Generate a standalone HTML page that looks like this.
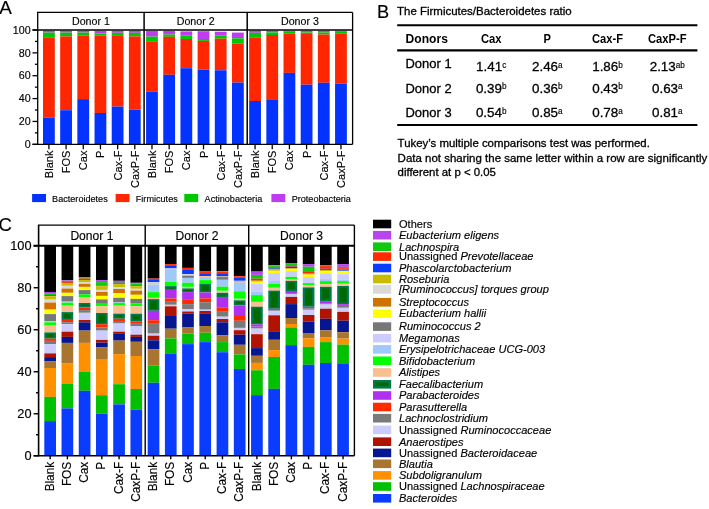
<!DOCTYPE html>
<html><head><meta charset="utf-8"><style>
html,body{margin:0;padding:0;background:#fff;overflow:hidden;}
svg{display:block;font-family:"Liberation Sans", sans-serif;will-change:transform;}
text{stroke:#000;stroke-width:0.15px;}
.pb{stroke-width:0.3px;}
.bd{stroke:none;}
.sp{stroke-width:0.15px;}
</style></head><body>
<svg width="709" height="509" viewBox="0 0 709 509">
<rect width="709" height="509" fill="#fff"/>
<rect x="43.00" y="30.70" width="11.80" height="1.90" fill="#c03cf0"/>
<rect x="43.00" y="32.60" width="11.80" height="4.70" fill="#00c800"/>
<rect x="43.00" y="37.30" width="11.80" height="80.20" fill="#ff2600"/>
<rect x="43.00" y="117.50" width="11.80" height="26.80" fill="#0433ff"/>
<rect x="60.18" y="30.70" width="11.80" height="1.90" fill="#c03cf0"/>
<rect x="60.18" y="32.60" width="11.80" height="3.80" fill="#00c800"/>
<rect x="60.18" y="36.40" width="11.80" height="73.80" fill="#ff2600"/>
<rect x="60.18" y="110.20" width="11.80" height="34.10" fill="#0433ff"/>
<rect x="77.36" y="30.70" width="11.80" height="1.90" fill="#c03cf0"/>
<rect x="77.36" y="32.60" width="11.80" height="3.10" fill="#00c800"/>
<rect x="77.36" y="35.70" width="11.80" height="63.40" fill="#ff2600"/>
<rect x="77.36" y="99.10" width="11.80" height="45.20" fill="#0433ff"/>
<rect x="94.54" y="30.70" width="11.80" height="2.70" fill="#c03cf0"/>
<rect x="94.54" y="33.40" width="11.80" height="2.30" fill="#00c800"/>
<rect x="94.54" y="35.70" width="11.80" height="77.30" fill="#ff2600"/>
<rect x="94.54" y="113.00" width="11.80" height="31.30" fill="#0433ff"/>
<rect x="111.72" y="30.70" width="11.80" height="2.10" fill="#c03cf0"/>
<rect x="111.72" y="32.80" width="11.80" height="3.10" fill="#00c800"/>
<rect x="111.72" y="35.90" width="11.80" height="70.70" fill="#ff2600"/>
<rect x="111.72" y="106.60" width="11.80" height="37.70" fill="#0433ff"/>
<rect x="128.90" y="30.70" width="11.80" height="2.10" fill="#c03cf0"/>
<rect x="128.90" y="32.80" width="11.80" height="3.60" fill="#00c800"/>
<rect x="128.90" y="36.40" width="11.80" height="73.30" fill="#ff2600"/>
<rect x="128.90" y="109.70" width="11.80" height="34.60" fill="#0433ff"/>
<rect x="146.08" y="30.70" width="11.80" height="5.90" fill="#c03cf0"/>
<rect x="146.08" y="36.60" width="11.80" height="4.70" fill="#00c800"/>
<rect x="146.08" y="41.30" width="11.80" height="50.50" fill="#ff2600"/>
<rect x="146.08" y="91.80" width="11.80" height="52.50" fill="#0433ff"/>
<rect x="163.26" y="30.70" width="11.80" height="3.80" fill="#c03cf0"/>
<rect x="163.26" y="34.50" width="11.80" height="2.30" fill="#00c800"/>
<rect x="163.26" y="36.80" width="11.80" height="38.00" fill="#ff2600"/>
<rect x="163.26" y="74.80" width="11.80" height="69.50" fill="#0433ff"/>
<rect x="180.44" y="31.40" width="11.80" height="4.30" fill="#c03cf0"/>
<rect x="180.44" y="35.70" width="11.80" height="3.30" fill="#00c800"/>
<rect x="180.44" y="39.00" width="11.80" height="29.20" fill="#ff2600"/>
<rect x="180.44" y="68.20" width="11.80" height="76.10" fill="#0433ff"/>
<rect x="197.62" y="31.20" width="11.80" height="7.80" fill="#c03cf0"/>
<rect x="197.62" y="39.00" width="11.80" height="1.90" fill="#00c800"/>
<rect x="197.62" y="40.90" width="11.80" height="28.70" fill="#ff2600"/>
<rect x="197.62" y="69.60" width="11.80" height="74.70" fill="#0433ff"/>
<rect x="214.80" y="31.70" width="11.80" height="4.00" fill="#c03cf0"/>
<rect x="214.80" y="35.70" width="11.80" height="3.00" fill="#00c800"/>
<rect x="214.80" y="38.70" width="11.80" height="31.60" fill="#ff2600"/>
<rect x="214.80" y="70.30" width="11.80" height="74.00" fill="#0433ff"/>
<rect x="231.98" y="32.60" width="11.80" height="5.70" fill="#c03cf0"/>
<rect x="231.98" y="38.30" width="11.80" height="5.40" fill="#00c800"/>
<rect x="231.98" y="43.70" width="11.80" height="38.90" fill="#ff2600"/>
<rect x="231.98" y="82.60" width="11.80" height="61.70" fill="#0433ff"/>
<rect x="249.16" y="30.70" width="11.80" height="2.10" fill="#c03cf0"/>
<rect x="249.16" y="32.80" width="11.80" height="5.00" fill="#00c800"/>
<rect x="249.16" y="37.80" width="11.80" height="63.20" fill="#ff2600"/>
<rect x="249.16" y="101.00" width="11.80" height="43.30" fill="#0433ff"/>
<rect x="266.34" y="30.70" width="11.80" height="1.70" fill="#c03cf0"/>
<rect x="266.34" y="32.40" width="11.80" height="2.60" fill="#00c800"/>
<rect x="266.34" y="35.00" width="11.80" height="64.30" fill="#ff2600"/>
<rect x="266.34" y="99.30" width="11.80" height="45.00" fill="#0433ff"/>
<rect x="283.52" y="30.70" width="11.80" height="1.20" fill="#c03cf0"/>
<rect x="283.52" y="31.90" width="11.80" height="1.90" fill="#00c800"/>
<rect x="283.52" y="33.80" width="11.80" height="39.10" fill="#ff2600"/>
<rect x="283.52" y="72.90" width="11.80" height="71.40" fill="#0433ff"/>
<rect x="300.70" y="30.70" width="11.80" height="1.70" fill="#c03cf0"/>
<rect x="300.70" y="32.40" width="11.80" height="1.60" fill="#00c800"/>
<rect x="300.70" y="34.00" width="11.80" height="50.70" fill="#ff2600"/>
<rect x="300.70" y="84.70" width="11.80" height="59.60" fill="#0433ff"/>
<rect x="317.88" y="30.70" width="11.80" height="1.70" fill="#c03cf0"/>
<rect x="317.88" y="32.40" width="11.80" height="2.10" fill="#00c800"/>
<rect x="317.88" y="34.50" width="11.80" height="48.30" fill="#ff2600"/>
<rect x="317.88" y="82.80" width="11.80" height="61.50" fill="#0433ff"/>
<rect x="335.06" y="30.70" width="11.80" height="1.20" fill="#c03cf0"/>
<rect x="335.06" y="31.90" width="11.80" height="1.90" fill="#00c800"/>
<rect x="335.06" y="33.80" width="11.80" height="49.70" fill="#ff2600"/>
<rect x="335.06" y="83.50" width="11.80" height="60.80" fill="#0433ff"/>
<line x1="37.70" y1="12.40" x2="37.70" y2="144.90" stroke="#000" stroke-width="1.3"/>
<line x1="37.10" y1="12.40" x2="352.60" y2="12.40" stroke="#000" stroke-width="1.3"/>
<line x1="352.60" y1="12.40" x2="352.60" y2="144.30" stroke="#000" stroke-width="1.3"/>
<line x1="32.50" y1="30.00" x2="352.60" y2="30.00" stroke="#000" stroke-width="1.3"/>
<line x1="32.50" y1="144.30" x2="352.60" y2="144.30" stroke="#000" stroke-width="1.3"/>
<line x1="144.10" y1="12.40" x2="144.10" y2="144.30" stroke="#000" stroke-width="1.5"/>
<line x1="247.20" y1="12.40" x2="247.20" y2="144.30" stroke="#000" stroke-width="1.5"/>
<line x1="32.50" y1="144.30" x2="37.70" y2="144.30" stroke="#000" stroke-width="1.3"/>
<text x="30.70" y="148.00" font-size="10.7" text-anchor="end" >0</text>
<line x1="34.90" y1="132.87" x2="37.70" y2="132.87" stroke="#000" stroke-width="1.3"/>
<line x1="32.50" y1="121.44" x2="37.70" y2="121.44" stroke="#000" stroke-width="1.3"/>
<text x="30.70" y="125.14" font-size="10.7" text-anchor="end" >20</text>
<line x1="34.90" y1="110.01" x2="37.70" y2="110.01" stroke="#000" stroke-width="1.3"/>
<line x1="32.50" y1="98.58" x2="37.70" y2="98.58" stroke="#000" stroke-width="1.3"/>
<text x="30.70" y="102.28" font-size="10.7" text-anchor="end" >40</text>
<line x1="34.90" y1="87.15" x2="37.70" y2="87.15" stroke="#000" stroke-width="1.3"/>
<line x1="32.50" y1="75.72" x2="37.70" y2="75.72" stroke="#000" stroke-width="1.3"/>
<text x="30.70" y="79.42" font-size="10.7" text-anchor="end" >60</text>
<line x1="34.90" y1="64.29" x2="37.70" y2="64.29" stroke="#000" stroke-width="1.3"/>
<line x1="32.50" y1="52.86" x2="37.70" y2="52.86" stroke="#000" stroke-width="1.3"/>
<text x="30.70" y="56.56" font-size="10.7" text-anchor="end" >80</text>
<line x1="34.90" y1="41.43" x2="37.70" y2="41.43" stroke="#000" stroke-width="1.3"/>
<line x1="32.50" y1="30.00" x2="37.70" y2="30.00" stroke="#000" stroke-width="1.3"/>
<text x="30.70" y="33.70" font-size="10.7" text-anchor="end" >100</text>
<line x1="48.90" y1="144.30" x2="48.90" y2="149.30" stroke="#000" stroke-width="1.3"/>
<text x="0.00" y="0.00" font-size="11.0" text-anchor="end" transform="translate(52.90,150.60) rotate(-90)">Blank</text>
<line x1="66.08" y1="144.30" x2="66.08" y2="149.30" stroke="#000" stroke-width="1.3"/>
<text x="0.00" y="0.00" font-size="11.0" text-anchor="end" transform="translate(70.08,150.60) rotate(-90)">FOS</text>
<line x1="83.26" y1="144.30" x2="83.26" y2="149.30" stroke="#000" stroke-width="1.3"/>
<text x="0.00" y="0.00" font-size="11.0" text-anchor="end" transform="translate(87.26,150.60) rotate(-90)">Cax</text>
<line x1="100.44" y1="144.30" x2="100.44" y2="149.30" stroke="#000" stroke-width="1.3"/>
<text x="0.00" y="0.00" font-size="11.0" text-anchor="end" transform="translate(104.44,150.60) rotate(-90)">P</text>
<line x1="117.62" y1="144.30" x2="117.62" y2="149.30" stroke="#000" stroke-width="1.3"/>
<text x="0.00" y="0.00" font-size="11.0" text-anchor="end" transform="translate(121.62,150.60) rotate(-90)">Cax-F</text>
<line x1="134.80" y1="144.30" x2="134.80" y2="149.30" stroke="#000" stroke-width="1.3"/>
<text x="0.00" y="0.00" font-size="11.0" text-anchor="end" transform="translate(138.80,150.60) rotate(-90)">CaxP-F</text>
<line x1="151.98" y1="144.30" x2="151.98" y2="149.30" stroke="#000" stroke-width="1.3"/>
<text x="0.00" y="0.00" font-size="11.0" text-anchor="end" transform="translate(155.98,150.60) rotate(-90)">Blank</text>
<line x1="169.16" y1="144.30" x2="169.16" y2="149.30" stroke="#000" stroke-width="1.3"/>
<text x="0.00" y="0.00" font-size="11.0" text-anchor="end" transform="translate(173.16,150.60) rotate(-90)">FOS</text>
<line x1="186.34" y1="144.30" x2="186.34" y2="149.30" stroke="#000" stroke-width="1.3"/>
<text x="0.00" y="0.00" font-size="11.0" text-anchor="end" transform="translate(190.34,150.60) rotate(-90)">Cax</text>
<line x1="203.52" y1="144.30" x2="203.52" y2="149.30" stroke="#000" stroke-width="1.3"/>
<text x="0.00" y="0.00" font-size="11.0" text-anchor="end" transform="translate(207.52,150.60) rotate(-90)">P</text>
<line x1="220.70" y1="144.30" x2="220.70" y2="149.30" stroke="#000" stroke-width="1.3"/>
<text x="0.00" y="0.00" font-size="11.0" text-anchor="end" transform="translate(224.70,150.60) rotate(-90)">Cax-F</text>
<line x1="237.88" y1="144.30" x2="237.88" y2="149.30" stroke="#000" stroke-width="1.3"/>
<text x="0.00" y="0.00" font-size="11.0" text-anchor="end" transform="translate(241.88,150.60) rotate(-90)">CaxP-F</text>
<line x1="255.06" y1="144.30" x2="255.06" y2="149.30" stroke="#000" stroke-width="1.3"/>
<text x="0.00" y="0.00" font-size="11.0" text-anchor="end" transform="translate(259.06,150.60) rotate(-90)">Blank</text>
<line x1="272.24" y1="144.30" x2="272.24" y2="149.30" stroke="#000" stroke-width="1.3"/>
<text x="0.00" y="0.00" font-size="11.0" text-anchor="end" transform="translate(276.24,150.60) rotate(-90)">FOS</text>
<line x1="289.42" y1="144.30" x2="289.42" y2="149.30" stroke="#000" stroke-width="1.3"/>
<text x="0.00" y="0.00" font-size="11.0" text-anchor="end" transform="translate(293.42,150.60) rotate(-90)">Cax</text>
<line x1="306.60" y1="144.30" x2="306.60" y2="149.30" stroke="#000" stroke-width="1.3"/>
<text x="0.00" y="0.00" font-size="11.0" text-anchor="end" transform="translate(310.60,150.60) rotate(-90)">P</text>
<line x1="323.78" y1="144.30" x2="323.78" y2="149.30" stroke="#000" stroke-width="1.3"/>
<text x="0.00" y="0.00" font-size="11.0" text-anchor="end" transform="translate(327.78,150.60) rotate(-90)">Cax-F</text>
<line x1="340.96" y1="144.30" x2="340.96" y2="149.30" stroke="#000" stroke-width="1.3"/>
<text x="0.00" y="0.00" font-size="11.0" text-anchor="end" transform="translate(344.96,150.60) rotate(-90)">CaxP-F</text>
<text x="90.90" y="24.80" font-size="10.65" text-anchor="middle" >Donor 1</text>
<text x="195.65" y="24.80" font-size="10.65" text-anchor="middle" >Donor 2</text>
<text x="299.90" y="24.80" font-size="10.65" text-anchor="middle" >Donor 3</text>
<rect x="32.10" y="194.00" width="13.90" height="8.10" fill="#0433ff"/>
<text x="52.10" y="201.60" font-size="9.1" text-anchor="start" >Bacteroidetes</text>
<rect x="115.60" y="194.00" width="13.90" height="8.10" fill="#ff2600"/>
<text x="135.80" y="201.60" font-size="9.1" text-anchor="start" >Firmicutes</text>
<rect x="184.30" y="194.00" width="13.90" height="8.10" fill="#00c800"/>
<text x="204.60" y="201.60" font-size="9.1" text-anchor="start" >Actinobacteria</text>
<rect x="271.40" y="194.00" width="13.90" height="8.10" fill="#c03cf0"/>
<text x="291.70" y="201.60" font-size="9.1" text-anchor="start" >Proteobacteria</text>
<text x="-0.70" y="14.40" font-size="18.9" text-anchor="start" >A</text>
<text x="377.00" y="17.90" font-size="18.2" text-anchor="start" >B</text>
<text x="397.00" y="14.70" font-size="11.0" text-anchor="start" textLength="174.70" lengthAdjust="spacingAndGlyphs" class="pb">The Firmicutes/Bacteroidetes ratio</text>
<line x1="397.20" y1="25.20" x2="697.40" y2="25.20" stroke="#000" stroke-width="2.1"/>
<line x1="397.20" y1="50.30" x2="697.40" y2="50.30" stroke="#000" stroke-width="2.2"/>
<line x1="397.20" y1="124.90" x2="697.40" y2="124.90" stroke="#000" stroke-width="2.0"/>
<text x="405.60" y="42.70" font-size="12.2" text-anchor="start" textLength="42.30" lengthAdjust="spacingAndGlyphs" font-weight="bold" class="bd">Donors</text>
<text x="491.20" y="42.90" font-size="12.2" text-anchor="middle" textLength="20.60" lengthAdjust="spacingAndGlyphs" font-weight="bold" class="bd">Cax</text>
<text x="547.30" y="42.90" font-size="12.2" text-anchor="middle" textLength="7.40" lengthAdjust="spacingAndGlyphs" font-weight="bold" class="bd">P</text>
<text x="607.50" y="42.90" font-size="12.2" text-anchor="middle" textLength="31.00" lengthAdjust="spacingAndGlyphs" font-weight="bold" class="bd">Cax-F</text>
<text x="667.30" y="42.90" font-size="12.2" text-anchor="middle" textLength="38.60" lengthAdjust="spacingAndGlyphs" font-weight="bold" class="bd">CaxP-F</text>
<text x="405.50" y="67.80" font-size="13.2" text-anchor="start" textLength="46.10" lengthAdjust="spacingAndGlyphs" class="pb">Donor 1</text>
<text x="491.20" y="71.30" font-size="13.4" text-anchor="middle" class="pb">1.41<tspan font-size="8.2" dy="-3.5" class="sp">c</tspan></text>
<text x="547.30" y="71.30" font-size="13.4" text-anchor="middle" class="pb">2.46<tspan font-size="8.2" dy="-3.5" class="sp">a</tspan></text>
<text x="607.50" y="71.30" font-size="13.4" text-anchor="middle" class="pb">1.86<tspan font-size="8.2" dy="-3.5" class="sp">b</tspan></text>
<text x="667.30" y="71.30" font-size="13.4" text-anchor="middle" class="pb">2.13<tspan font-size="8.2" dy="-3.5" class="sp">ab</tspan></text>
<text x="405.50" y="92.60" font-size="13.2" text-anchor="start" textLength="46.10" lengthAdjust="spacingAndGlyphs" class="pb">Donor 2</text>
<text x="491.20" y="92.60" font-size="13.4" text-anchor="middle" class="pb">0.39<tspan font-size="8.2" dy="-3.5" class="sp">b</tspan></text>
<text x="547.30" y="92.60" font-size="13.4" text-anchor="middle" class="pb">0.36<tspan font-size="8.2" dy="-3.5" class="sp">b</tspan></text>
<text x="607.50" y="92.60" font-size="13.4" text-anchor="middle" class="pb">0.43<tspan font-size="8.2" dy="-3.5" class="sp">b</tspan></text>
<text x="667.30" y="92.60" font-size="13.4" text-anchor="middle" class="pb">0.63<tspan font-size="8.2" dy="-3.5" class="sp">a</tspan></text>
<text x="405.50" y="117.40" font-size="13.2" text-anchor="start" textLength="46.10" lengthAdjust="spacingAndGlyphs" class="pb">Donor 3</text>
<text x="491.20" y="117.40" font-size="13.4" text-anchor="middle" class="pb">0.54<tspan font-size="8.2" dy="-3.5" class="sp">b</tspan></text>
<text x="547.30" y="117.40" font-size="13.4" text-anchor="middle" class="pb">0.85<tspan font-size="8.2" dy="-3.5" class="sp">a</tspan></text>
<text x="607.50" y="117.40" font-size="13.4" text-anchor="middle" class="pb">0.78<tspan font-size="8.2" dy="-3.5" class="sp">a</tspan></text>
<text x="667.30" y="117.40" font-size="13.4" text-anchor="middle" class="pb">0.81<tspan font-size="8.2" dy="-3.5" class="sp">a</tspan></text>
<text x="397.60" y="146.90" font-size="11.0" text-anchor="start" textLength="252.30" lengthAdjust="spacingAndGlyphs" class="pb">Tukey’s multiple comparisons test was performed.</text>
<text x="397.60" y="162.00" font-size="11.0" text-anchor="start" textLength="309.60" lengthAdjust="spacingAndGlyphs" class="pb">Data not sharing the same letter within a row are significantly</text>
<text x="397.60" y="176.30" font-size="11.0" text-anchor="start" textLength="98.30" lengthAdjust="spacingAndGlyphs" class="pb">different at p &lt; 0.05</text>
<rect x="44.30" y="245.60" width="11.70" height="46.40" fill="#000000"/>
<rect x="44.30" y="292.00" width="11.70" height="1.80" fill="#b844f0"/>
<rect x="44.30" y="293.80" width="11.70" height="1.20" fill="#10c810"/>
<rect x="44.30" y="295.00" width="11.70" height="1.30" fill="#ff2a00"/>
<rect x="44.30" y="296.30" width="11.70" height="3.30" fill="#c8bc00"/>
<rect x="44.30" y="299.60" width="11.70" height="3.00" fill="#d9d9d9"/>
<rect x="44.30" y="302.60" width="11.70" height="7.00" fill="#d07200"/>
<rect x="44.30" y="309.60" width="11.70" height="4.50" fill="#ffff00"/>
<rect x="44.30" y="314.10" width="11.70" height="7.10" fill="#777777"/>
<rect x="44.30" y="321.20" width="11.70" height="1.10" fill="#a0c8f8"/>
<rect x="44.30" y="322.30" width="11.70" height="3.40" fill="#00ff00"/>
<rect x="44.30" y="325.70" width="11.70" height="6.70" fill="#f8c090"/>
<rect x="44.30" y="332.40" width="11.70" height="6.30" fill="#007850"/>
<rect x="46.60" y="334.00" width="7.10" height="3.10" fill="#006a00"/>
<rect x="44.30" y="338.70" width="11.70" height="2.20" fill="#ff2a00"/>
<rect x="44.30" y="340.90" width="11.70" height="3.20" fill="#7a7a7a"/>
<rect x="44.30" y="344.10" width="11.70" height="9.30" fill="#ccccff"/>
<rect x="44.30" y="353.40" width="11.70" height="3.70" fill="#b01400"/>
<rect x="44.30" y="357.10" width="11.70" height="4.00" fill="#061690"/>
<rect x="44.30" y="361.10" width="11.70" height="6.90" fill="#a87530"/>
<rect x="44.30" y="368.00" width="11.70" height="28.90" fill="#ff9000"/>
<rect x="44.30" y="396.90" width="11.70" height="24.20" fill="#00c000"/>
<rect x="44.30" y="421.10" width="11.70" height="34.65" fill="#0a3cff"/>
<rect x="61.53" y="245.60" width="11.70" height="34.50" fill="#000000"/>
<rect x="61.53" y="280.10" width="11.70" height="0.70" fill="#b844f0"/>
<rect x="61.53" y="280.80" width="11.70" height="1.30" fill="#10c810"/>
<rect x="61.53" y="282.10" width="11.70" height="1.00" fill="#ff2a00"/>
<rect x="61.53" y="283.10" width="11.70" height="2.70" fill="#c8bc00"/>
<rect x="61.53" y="285.80" width="11.70" height="2.80" fill="#d9d9d9"/>
<rect x="61.53" y="288.60" width="11.70" height="4.20" fill="#d07200"/>
<rect x="61.53" y="292.80" width="11.70" height="3.30" fill="#ffff00"/>
<rect x="61.53" y="296.10" width="11.70" height="5.50" fill="#777777"/>
<rect x="61.53" y="301.60" width="11.70" height="1.10" fill="#a0c8f8"/>
<rect x="61.53" y="302.70" width="11.70" height="3.00" fill="#00ff00"/>
<rect x="61.53" y="305.70" width="11.70" height="6.40" fill="#f8c090"/>
<rect x="61.53" y="312.10" width="11.70" height="7.80" fill="#007850"/>
<rect x="63.83" y="313.70" width="7.10" height="4.60" fill="#006a00"/>
<rect x="61.53" y="319.90" width="11.70" height="2.30" fill="#ff2a00"/>
<rect x="61.53" y="322.20" width="11.70" height="2.00" fill="#7a7a7a"/>
<rect x="61.53" y="324.20" width="11.70" height="7.50" fill="#ccccff"/>
<rect x="61.53" y="331.70" width="11.70" height="5.20" fill="#b01400"/>
<rect x="61.53" y="336.90" width="11.70" height="6.00" fill="#061690"/>
<rect x="61.53" y="342.90" width="11.70" height="20.20" fill="#a87530"/>
<rect x="61.53" y="363.10" width="11.70" height="20.90" fill="#ff9000"/>
<rect x="61.53" y="384.00" width="11.70" height="24.40" fill="#00c000"/>
<rect x="61.53" y="408.40" width="11.70" height="47.35" fill="#0a3cff"/>
<rect x="78.76" y="245.60" width="11.70" height="31.40" fill="#000000"/>
<rect x="78.76" y="277.00" width="11.70" height="0.80" fill="#6c7c8c"/>
<rect x="78.76" y="277.80" width="11.70" height="0.95" fill="#7a8a10"/>
<rect x="78.76" y="278.75" width="11.70" height="1.25" fill="#ff2a00"/>
<rect x="78.76" y="280.00" width="11.70" height="2.00" fill="#c8bc00"/>
<rect x="78.76" y="282.00" width="11.70" height="1.90" fill="#d9d9d9"/>
<rect x="78.76" y="283.90" width="11.70" height="3.00" fill="#d07200"/>
<rect x="78.76" y="286.90" width="11.70" height="3.20" fill="#ffff00"/>
<rect x="78.76" y="290.10" width="11.70" height="4.20" fill="#777777"/>
<rect x="78.76" y="294.30" width="11.70" height="2.70" fill="#00ff00"/>
<rect x="78.76" y="297.00" width="11.70" height="6.00" fill="#f8c090"/>
<rect x="78.76" y="303.00" width="11.70" height="4.50" fill="#007850"/>
<rect x="81.06" y="304.60" width="7.10" height="1.30" fill="#006a00"/>
<rect x="78.76" y="307.50" width="11.70" height="2.60" fill="#ff2a00"/>
<rect x="78.76" y="310.10" width="11.70" height="2.70" fill="#7a7a7a"/>
<rect x="78.76" y="312.80" width="11.70" height="7.20" fill="#ccccff"/>
<rect x="78.76" y="320.00" width="11.70" height="2.30" fill="#b01400"/>
<rect x="78.76" y="322.30" width="11.70" height="8.30" fill="#061690"/>
<rect x="78.76" y="330.60" width="11.70" height="12.30" fill="#a87530"/>
<rect x="78.76" y="342.90" width="11.70" height="29.10" fill="#ff9000"/>
<rect x="78.76" y="372.00" width="11.70" height="18.80" fill="#00c000"/>
<rect x="78.76" y="390.80" width="11.70" height="64.95" fill="#0a3cff"/>
<rect x="95.99" y="245.60" width="11.70" height="34.50" fill="#000000"/>
<rect x="95.99" y="280.10" width="11.70" height="2.00" fill="#b844f0"/>
<rect x="95.99" y="282.10" width="11.70" height="3.20" fill="#10c810"/>
<rect x="95.99" y="285.30" width="11.70" height="0.90" fill="#ff2a00"/>
<rect x="95.99" y="286.20" width="11.70" height="3.70" fill="#c8bc00"/>
<rect x="95.99" y="289.90" width="11.70" height="2.10" fill="#d9d9d9"/>
<rect x="95.99" y="292.00" width="11.70" height="3.90" fill="#d07200"/>
<rect x="95.99" y="295.90" width="11.70" height="3.50" fill="#ffff00"/>
<rect x="95.99" y="299.40" width="11.70" height="4.40" fill="#777777"/>
<rect x="95.99" y="303.80" width="11.70" height="2.50" fill="#00ff00"/>
<rect x="95.99" y="306.30" width="11.70" height="6.70" fill="#f8c090"/>
<rect x="95.99" y="313.00" width="11.70" height="11.20" fill="#007850"/>
<rect x="98.29" y="314.60" width="7.10" height="8.00" fill="#006a00"/>
<rect x="95.99" y="324.20" width="11.70" height="3.40" fill="#ff2a00"/>
<rect x="95.99" y="327.60" width="11.70" height="3.00" fill="#7a7a7a"/>
<rect x="95.99" y="330.60" width="11.70" height="9.30" fill="#ccccff"/>
<rect x="95.99" y="339.90" width="11.70" height="2.70" fill="#b01400"/>
<rect x="95.99" y="342.60" width="11.70" height="4.50" fill="#061690"/>
<rect x="95.99" y="347.10" width="11.70" height="11.90" fill="#a87530"/>
<rect x="95.99" y="359.00" width="11.70" height="36.20" fill="#ff9000"/>
<rect x="95.99" y="395.20" width="11.70" height="18.40" fill="#00c000"/>
<rect x="95.99" y="413.60" width="11.70" height="42.15" fill="#0a3cff"/>
<rect x="113.22" y="245.60" width="11.70" height="35.20" fill="#000000"/>
<rect x="113.22" y="280.80" width="11.70" height="1.30" fill="#b844f0"/>
<rect x="113.22" y="282.10" width="11.70" height="1.00" fill="#6c7c8c"/>
<rect x="113.22" y="283.10" width="11.70" height="1.00" fill="#ff2a00"/>
<rect x="113.22" y="284.10" width="11.70" height="2.90" fill="#c8bc00"/>
<rect x="113.22" y="287.00" width="11.70" height="2.00" fill="#d9d9d9"/>
<rect x="113.22" y="289.00" width="11.70" height="4.30" fill="#d07200"/>
<rect x="113.22" y="293.30" width="11.70" height="4.50" fill="#ffff00"/>
<rect x="113.22" y="297.80" width="11.70" height="4.50" fill="#777777"/>
<rect x="113.22" y="302.30" width="11.70" height="0.60" fill="#a0c8f8"/>
<rect x="113.22" y="302.90" width="11.70" height="2.80" fill="#00ff00"/>
<rect x="113.22" y="305.70" width="11.70" height="7.90" fill="#f8c090"/>
<rect x="113.22" y="313.60" width="11.70" height="5.20" fill="#007850"/>
<rect x="115.52" y="315.20" width="7.10" height="2.00" fill="#006a00"/>
<rect x="113.22" y="318.80" width="11.70" height="2.20" fill="#ff2a00"/>
<rect x="113.22" y="321.00" width="11.70" height="2.50" fill="#7a7a7a"/>
<rect x="113.22" y="323.50" width="11.70" height="8.20" fill="#ccccff"/>
<rect x="113.22" y="331.70" width="11.70" height="2.20" fill="#b01400"/>
<rect x="113.22" y="333.90" width="11.70" height="6.70" fill="#061690"/>
<rect x="113.22" y="340.60" width="11.70" height="13.50" fill="#a87530"/>
<rect x="113.22" y="354.10" width="11.70" height="30.10" fill="#ff9000"/>
<rect x="113.22" y="384.20" width="11.70" height="20.20" fill="#00c000"/>
<rect x="113.22" y="404.40" width="11.70" height="51.35" fill="#0a3cff"/>
<rect x="130.45" y="245.60" width="11.70" height="37.20" fill="#000000"/>
<rect x="130.45" y="282.80" width="11.70" height="0.80" fill="#b844f0"/>
<rect x="130.45" y="283.60" width="11.70" height="1.50" fill="#10c810"/>
<rect x="130.45" y="285.10" width="11.70" height="1.10" fill="#ff2a00"/>
<rect x="130.45" y="286.20" width="11.70" height="2.60" fill="#c8bc00"/>
<rect x="130.45" y="288.80" width="11.70" height="1.90" fill="#d9d9d9"/>
<rect x="130.45" y="290.70" width="11.70" height="4.10" fill="#d07200"/>
<rect x="130.45" y="294.80" width="11.70" height="4.10" fill="#ffff00"/>
<rect x="130.45" y="298.90" width="11.70" height="4.30" fill="#777777"/>
<rect x="130.45" y="303.20" width="11.70" height="3.10" fill="#00ff00"/>
<rect x="130.45" y="306.30" width="11.70" height="7.40" fill="#f8c090"/>
<rect x="130.45" y="313.70" width="11.70" height="7.50" fill="#007850"/>
<rect x="132.75" y="315.30" width="7.10" height="4.30" fill="#006a00"/>
<rect x="130.45" y="321.20" width="11.70" height="2.60" fill="#ff2a00"/>
<rect x="130.45" y="323.80" width="11.70" height="2.20" fill="#7a7a7a"/>
<rect x="130.45" y="326.00" width="11.70" height="8.70" fill="#ccccff"/>
<rect x="130.45" y="334.70" width="11.70" height="2.20" fill="#b01400"/>
<rect x="130.45" y="336.90" width="11.70" height="4.90" fill="#061690"/>
<rect x="130.45" y="341.80" width="11.70" height="14.20" fill="#a87530"/>
<rect x="130.45" y="356.00" width="11.70" height="33.00" fill="#ff9000"/>
<rect x="130.45" y="389.00" width="11.70" height="20.50" fill="#00c000"/>
<rect x="130.45" y="409.50" width="11.70" height="46.25" fill="#0a3cff"/>
<rect x="147.68" y="245.60" width="11.70" height="33.00" fill="#000000"/>
<rect x="147.68" y="278.60" width="11.70" height="1.40" fill="#ff2a00"/>
<rect x="147.68" y="280.00" width="11.70" height="2.30" fill="#0a3cff"/>
<rect x="147.68" y="282.30" width="11.70" height="0.70" fill="#d9d9d9"/>
<rect x="147.68" y="283.00" width="11.70" height="1.50" fill="#f8c090"/>
<rect x="147.68" y="284.50" width="11.70" height="7.60" fill="#a0c8f8"/>
<rect x="147.68" y="292.10" width="11.70" height="5.80" fill="#00ff00"/>
<rect x="147.68" y="297.90" width="11.70" height="1.20" fill="#f8c090"/>
<rect x="147.68" y="299.10" width="11.70" height="11.70" fill="#007850"/>
<rect x="149.98" y="300.70" width="7.10" height="8.50" fill="#006a00"/>
<rect x="147.68" y="310.80" width="11.70" height="9.40" fill="#b030f0"/>
<rect x="147.68" y="320.20" width="11.70" height="3.60" fill="#ff2a00"/>
<rect x="147.68" y="323.80" width="11.70" height="9.80" fill="#7a7a7a"/>
<rect x="147.68" y="333.60" width="11.70" height="2.10" fill="#ccccff"/>
<rect x="147.68" y="335.70" width="11.70" height="4.60" fill="#b01400"/>
<rect x="147.68" y="340.30" width="11.70" height="8.90" fill="#061690"/>
<rect x="147.68" y="349.20" width="11.70" height="16.10" fill="#a87530"/>
<rect x="147.68" y="365.30" width="11.70" height="17.50" fill="#00c000"/>
<rect x="147.68" y="382.80" width="11.70" height="72.95" fill="#0a3cff"/>
<rect x="164.91" y="245.60" width="11.70" height="18.50" fill="#000000"/>
<rect x="164.91" y="264.10" width="11.70" height="1.90" fill="#ff2a00"/>
<rect x="164.91" y="266.00" width="11.70" height="2.40" fill="#0a3cff"/>
<rect x="164.91" y="268.40" width="11.70" height="0.80" fill="#ccccff"/>
<rect x="164.91" y="269.20" width="11.70" height="12.80" fill="#a0c8f8"/>
<rect x="164.91" y="282.00" width="11.70" height="4.10" fill="#00ff00"/>
<rect x="164.91" y="286.10" width="11.70" height="3.80" fill="#007850"/>
<rect x="167.21" y="287.70" width="7.10" height="1.00" fill="#006a00"/>
<rect x="164.91" y="289.90" width="11.70" height="8.60" fill="#b030f0"/>
<rect x="164.91" y="298.50" width="11.70" height="3.30" fill="#ff2a00"/>
<rect x="164.91" y="301.80" width="11.70" height="3.00" fill="#7a7a7a"/>
<rect x="164.91" y="304.80" width="11.70" height="1.50" fill="#ccccff"/>
<rect x="164.91" y="306.30" width="11.70" height="9.70" fill="#b01400"/>
<rect x="164.91" y="316.00" width="11.70" height="12.70" fill="#061690"/>
<rect x="164.91" y="328.70" width="11.70" height="9.70" fill="#a87530"/>
<rect x="164.91" y="338.40" width="11.70" height="15.00" fill="#00c000"/>
<rect x="164.91" y="353.40" width="11.70" height="102.35" fill="#0a3cff"/>
<rect x="182.14" y="245.60" width="11.70" height="22.30" fill="#000000"/>
<rect x="182.14" y="267.90" width="11.70" height="2.10" fill="#ff2a00"/>
<rect x="182.14" y="270.00" width="11.70" height="4.20" fill="#0a3cff"/>
<rect x="182.14" y="274.20" width="11.70" height="1.40" fill="#d9d9d9"/>
<rect x="182.14" y="275.60" width="11.70" height="2.30" fill="#777777"/>
<rect x="182.14" y="277.90" width="11.70" height="4.90" fill="#a0c8f8"/>
<rect x="182.14" y="282.80" width="11.70" height="4.10" fill="#00ff00"/>
<rect x="182.14" y="286.90" width="11.70" height="1.50" fill="#f8c090"/>
<rect x="182.14" y="288.40" width="11.70" height="3.70" fill="#007850"/>
<rect x="184.44" y="290.00" width="7.10" height="1.00" fill="#006a00"/>
<rect x="182.14" y="292.10" width="11.70" height="7.80" fill="#b030f0"/>
<rect x="182.14" y="299.90" width="11.70" height="4.20" fill="#ff2a00"/>
<rect x="182.14" y="304.10" width="11.70" height="5.20" fill="#7a7a7a"/>
<rect x="182.14" y="309.30" width="11.70" height="2.20" fill="#ccccff"/>
<rect x="182.14" y="311.50" width="11.70" height="2.20" fill="#b01400"/>
<rect x="182.14" y="313.70" width="11.70" height="13.80" fill="#061690"/>
<rect x="182.14" y="327.50" width="11.70" height="6.10" fill="#a87530"/>
<rect x="182.14" y="333.60" width="11.70" height="10.50" fill="#00c000"/>
<rect x="182.14" y="344.10" width="11.70" height="111.65" fill="#0a3cff"/>
<rect x="199.37" y="245.60" width="11.70" height="25.50" fill="#000000"/>
<rect x="199.37" y="271.10" width="11.70" height="2.10" fill="#ff2a00"/>
<rect x="199.37" y="273.20" width="11.70" height="2.90" fill="#0a3cff"/>
<rect x="199.37" y="276.10" width="11.70" height="0.90" fill="#f8c090"/>
<rect x="199.37" y="277.00" width="11.70" height="3.10" fill="#a0c8f8"/>
<rect x="199.37" y="280.10" width="11.70" height="3.50" fill="#00ff00"/>
<rect x="199.37" y="283.60" width="11.70" height="8.90" fill="#007850"/>
<rect x="201.67" y="285.20" width="7.10" height="5.70" fill="#006a00"/>
<rect x="199.37" y="292.50" width="11.70" height="5.80" fill="#b030f0"/>
<rect x="199.37" y="298.30" width="11.70" height="3.90" fill="#ff2a00"/>
<rect x="199.37" y="302.20" width="11.70" height="7.50" fill="#7a7a7a"/>
<rect x="199.37" y="309.70" width="11.70" height="1.30" fill="#ccccff"/>
<rect x="199.37" y="311.00" width="11.70" height="2.30" fill="#b01400"/>
<rect x="199.37" y="313.30" width="11.70" height="12.70" fill="#061690"/>
<rect x="199.37" y="326.00" width="11.70" height="6.70" fill="#a87530"/>
<rect x="199.37" y="332.70" width="11.70" height="9.40" fill="#00c000"/>
<rect x="199.37" y="342.10" width="11.70" height="113.65" fill="#0a3cff"/>
<rect x="216.60" y="245.60" width="11.70" height="25.60" fill="#000000"/>
<rect x="216.60" y="271.20" width="11.70" height="0.50" fill="#7a8a10"/>
<rect x="216.60" y="271.70" width="11.70" height="1.50" fill="#ff2a00"/>
<rect x="216.60" y="273.20" width="11.70" height="2.90" fill="#0a3cff"/>
<rect x="216.60" y="276.10" width="11.70" height="0.50" fill="#d9d9d9"/>
<rect x="216.60" y="276.60" width="11.70" height="1.30" fill="#8c7458"/>
<rect x="216.60" y="277.90" width="11.70" height="1.90" fill="#777777"/>
<rect x="216.60" y="279.80" width="11.70" height="6.90" fill="#a0c8f8"/>
<rect x="216.60" y="286.70" width="11.70" height="4.10" fill="#00ff00"/>
<rect x="216.60" y="290.80" width="11.70" height="2.00" fill="#f8c090"/>
<rect x="216.60" y="292.80" width="11.70" height="4.20" fill="#007850"/>
<rect x="218.90" y="294.40" width="7.10" height="1.00" fill="#006a00"/>
<rect x="216.60" y="297.00" width="11.70" height="10.80" fill="#b030f0"/>
<rect x="216.60" y="307.80" width="11.70" height="4.00" fill="#ff2a00"/>
<rect x="216.60" y="311.80" width="11.70" height="4.90" fill="#7a7a7a"/>
<rect x="216.60" y="316.70" width="11.70" height="2.30" fill="#ccccff"/>
<rect x="216.60" y="319.00" width="11.70" height="3.30" fill="#b01400"/>
<rect x="216.60" y="322.30" width="11.70" height="13.10" fill="#061690"/>
<rect x="216.60" y="335.40" width="11.70" height="6.70" fill="#a87530"/>
<rect x="216.60" y="342.10" width="11.70" height="10.10" fill="#00c000"/>
<rect x="216.60" y="352.20" width="11.70" height="103.55" fill="#0a3cff"/>
<rect x="233.83" y="245.60" width="11.70" height="30.60" fill="#000000"/>
<rect x="233.83" y="276.20" width="11.70" height="1.70" fill="#ff2a00"/>
<rect x="233.83" y="277.90" width="11.70" height="2.90" fill="#0a3cff"/>
<rect x="233.83" y="280.80" width="11.70" height="2.10" fill="#c8c0b0"/>
<rect x="233.83" y="282.90" width="11.70" height="8.40" fill="#a0c8f8"/>
<rect x="233.83" y="291.30" width="11.70" height="7.50" fill="#00ff00"/>
<rect x="233.83" y="298.80" width="11.70" height="1.50" fill="#f8c090"/>
<rect x="233.83" y="300.30" width="11.70" height="5.20" fill="#007850"/>
<rect x="236.13" y="301.90" width="7.10" height="2.00" fill="#006a00"/>
<rect x="233.83" y="305.50" width="11.70" height="10.50" fill="#b030f0"/>
<rect x="233.83" y="316.00" width="11.70" height="4.80" fill="#ff2a00"/>
<rect x="233.83" y="320.80" width="11.70" height="7.10" fill="#7a7a7a"/>
<rect x="233.83" y="327.90" width="11.70" height="2.30" fill="#ccccff"/>
<rect x="233.83" y="330.20" width="11.70" height="4.50" fill="#b01400"/>
<rect x="233.83" y="334.70" width="11.70" height="10.10" fill="#061690"/>
<rect x="233.83" y="344.80" width="11.70" height="9.70" fill="#a87530"/>
<rect x="233.83" y="354.50" width="11.70" height="14.50" fill="#00c000"/>
<rect x="233.83" y="369.00" width="11.70" height="86.75" fill="#0a3cff"/>
<rect x="251.06" y="245.60" width="11.70" height="26.00" fill="#000000"/>
<rect x="251.06" y="271.60" width="11.70" height="3.30" fill="#b844f0"/>
<rect x="251.06" y="274.90" width="11.70" height="3.80" fill="#10c810"/>
<rect x="251.06" y="278.70" width="11.70" height="1.50" fill="#ff2a00"/>
<rect x="251.06" y="280.20" width="11.70" height="0.80" fill="#d07200"/>
<rect x="251.06" y="281.00" width="11.70" height="0.70" fill="#c8bc00"/>
<rect x="251.06" y="281.70" width="11.70" height="2.40" fill="#ffff00"/>
<rect x="251.06" y="284.10" width="11.70" height="7.50" fill="#ccccff"/>
<rect x="251.06" y="291.60" width="11.70" height="3.50" fill="#a0c8f8"/>
<rect x="251.06" y="295.10" width="11.70" height="6.80" fill="#00ff00"/>
<rect x="251.06" y="301.90" width="11.70" height="4.80" fill="#f8c090"/>
<rect x="251.06" y="306.70" width="11.70" height="17.70" fill="#007850"/>
<rect x="253.36" y="308.30" width="7.10" height="14.50" fill="#006a00"/>
<rect x="251.06" y="324.40" width="11.70" height="2.30" fill="#b030f0"/>
<rect x="251.06" y="326.70" width="11.70" height="1.90" fill="#7a7a7a"/>
<rect x="251.06" y="328.60" width="11.70" height="5.60" fill="#ccccff"/>
<rect x="251.06" y="334.20" width="11.70" height="13.90" fill="#b01400"/>
<rect x="251.06" y="348.10" width="11.70" height="7.70" fill="#061690"/>
<rect x="251.06" y="355.80" width="11.70" height="7.10" fill="#a87530"/>
<rect x="251.06" y="362.90" width="11.70" height="7.40" fill="#ff9000"/>
<rect x="251.06" y="370.30" width="11.70" height="24.80" fill="#00c000"/>
<rect x="251.06" y="395.10" width="11.70" height="60.65" fill="#0a3cff"/>
<rect x="268.29" y="245.60" width="11.70" height="19.50" fill="#000000"/>
<rect x="268.29" y="265.10" width="11.70" height="0.70" fill="#b844f0"/>
<rect x="268.29" y="265.80" width="11.70" height="1.10" fill="#10c810"/>
<rect x="268.29" y="266.90" width="11.70" height="0.60" fill="#ff2a00"/>
<rect x="268.29" y="267.50" width="11.70" height="1.30" fill="#0a3cff"/>
<rect x="268.29" y="268.80" width="11.70" height="2.00" fill="#c8bc00"/>
<rect x="268.29" y="270.80" width="11.70" height="2.30" fill="#ffff00"/>
<rect x="268.29" y="273.10" width="11.70" height="7.80" fill="#ccccff"/>
<rect x="268.29" y="280.90" width="11.70" height="3.00" fill="#a0c8f8"/>
<rect x="268.29" y="283.90" width="11.70" height="3.90" fill="#00ff00"/>
<rect x="268.29" y="287.80" width="11.70" height="2.80" fill="#f8c090"/>
<rect x="268.29" y="290.60" width="11.70" height="18.20" fill="#007850"/>
<rect x="270.59" y="292.20" width="7.10" height="15.00" fill="#006a00"/>
<rect x="268.29" y="308.80" width="11.70" height="1.20" fill="#b030f0"/>
<rect x="268.29" y="310.00" width="11.70" height="0.80" fill="#7a7a7a"/>
<rect x="268.29" y="310.80" width="11.70" height="4.50" fill="#ccccff"/>
<rect x="268.29" y="315.30" width="11.70" height="16.60" fill="#b01400"/>
<rect x="268.29" y="331.90" width="11.70" height="7.90" fill="#061690"/>
<rect x="268.29" y="339.80" width="11.70" height="10.30" fill="#a87530"/>
<rect x="268.29" y="350.10" width="11.70" height="6.90" fill="#ff9000"/>
<rect x="268.29" y="357.00" width="11.70" height="31.90" fill="#00c000"/>
<rect x="268.29" y="388.90" width="11.70" height="66.85" fill="#0a3cff"/>
<rect x="285.52" y="245.60" width="11.70" height="17.40" fill="#000000"/>
<rect x="285.52" y="263.00" width="11.70" height="0.90" fill="#b844f0"/>
<rect x="285.52" y="263.90" width="11.70" height="1.30" fill="#10c810"/>
<rect x="285.52" y="265.20" width="11.70" height="1.50" fill="#ff2a00"/>
<rect x="285.52" y="266.70" width="11.70" height="1.50" fill="#0a3cff"/>
<rect x="285.52" y="268.20" width="11.70" height="1.10" fill="#c8bc00"/>
<rect x="285.52" y="269.30" width="11.70" height="1.80" fill="#ffff00"/>
<rect x="285.52" y="271.10" width="11.70" height="5.70" fill="#ccccff"/>
<rect x="285.52" y="276.80" width="11.70" height="2.30" fill="#00ff00"/>
<rect x="285.52" y="279.10" width="11.70" height="1.80" fill="#f8c090"/>
<rect x="285.52" y="280.90" width="11.70" height="10.10" fill="#007850"/>
<rect x="287.82" y="282.50" width="7.10" height="6.90" fill="#006a00"/>
<rect x="285.52" y="291.00" width="11.70" height="2.10" fill="#b030f0"/>
<rect x="285.52" y="293.10" width="11.70" height="1.30" fill="#7a7a7a"/>
<rect x="285.52" y="294.40" width="11.70" height="2.50" fill="#ccccff"/>
<rect x="285.52" y="296.90" width="11.70" height="7.20" fill="#b01400"/>
<rect x="285.52" y="304.10" width="11.70" height="13.90" fill="#061690"/>
<rect x="285.52" y="318.00" width="11.70" height="6.00" fill="#a87530"/>
<rect x="285.52" y="324.00" width="11.70" height="3.40" fill="#ff9000"/>
<rect x="285.52" y="327.40" width="11.70" height="17.70" fill="#00c000"/>
<rect x="285.52" y="345.10" width="11.70" height="110.65" fill="#0a3cff"/>
<rect x="302.75" y="245.60" width="11.70" height="18.50" fill="#000000"/>
<rect x="302.75" y="264.10" width="11.70" height="2.60" fill="#b844f0"/>
<rect x="302.75" y="266.70" width="11.70" height="4.50" fill="#10c810"/>
<rect x="302.75" y="271.20" width="11.70" height="2.20" fill="#ff2a00"/>
<rect x="302.75" y="273.40" width="11.70" height="1.10" fill="#d07200"/>
<rect x="302.75" y="274.50" width="11.70" height="2.60" fill="#ffff00"/>
<rect x="302.75" y="277.10" width="11.70" height="6.00" fill="#ccccff"/>
<rect x="302.75" y="283.10" width="11.70" height="2.00" fill="#00ff00"/>
<rect x="302.75" y="285.10" width="11.70" height="2.30" fill="#f8c090"/>
<rect x="302.75" y="287.40" width="11.70" height="19.40" fill="#007850"/>
<rect x="305.05" y="289.00" width="7.10" height="16.20" fill="#006a00"/>
<rect x="302.75" y="306.80" width="11.70" height="1.40" fill="#b030f0"/>
<rect x="302.75" y="308.20" width="11.70" height="1.60" fill="#7a7a7a"/>
<rect x="302.75" y="309.80" width="11.70" height="5.20" fill="#ccccff"/>
<rect x="302.75" y="315.00" width="11.70" height="6.70" fill="#b01400"/>
<rect x="302.75" y="321.70" width="11.70" height="11.30" fill="#061690"/>
<rect x="302.75" y="333.00" width="11.70" height="5.20" fill="#a87530"/>
<rect x="302.75" y="338.20" width="11.70" height="8.70" fill="#ff9000"/>
<rect x="302.75" y="346.90" width="11.70" height="17.90" fill="#00c000"/>
<rect x="302.75" y="364.80" width="11.70" height="90.95" fill="#0a3cff"/>
<rect x="319.98" y="245.60" width="11.70" height="19.50" fill="#000000"/>
<rect x="319.98" y="265.10" width="11.70" height="1.00" fill="#7a8a10"/>
<rect x="319.98" y="266.10" width="11.70" height="2.70" fill="#ff2a00"/>
<rect x="319.98" y="268.80" width="11.70" height="1.10" fill="#0a3cff"/>
<rect x="319.98" y="269.90" width="11.70" height="1.30" fill="#c8bc00"/>
<rect x="319.98" y="271.20" width="11.70" height="2.10" fill="#ffff00"/>
<rect x="319.98" y="273.30" width="11.70" height="5.80" fill="#ccccff"/>
<rect x="319.98" y="279.10" width="11.70" height="2.00" fill="#a0c8f8"/>
<rect x="319.98" y="281.10" width="11.70" height="3.00" fill="#00ff00"/>
<rect x="319.98" y="284.10" width="11.70" height="2.70" fill="#f8c090"/>
<rect x="319.98" y="286.80" width="11.70" height="14.30" fill="#007850"/>
<rect x="322.28" y="288.40" width="7.10" height="11.10" fill="#006a00"/>
<rect x="319.98" y="301.10" width="11.70" height="2.60" fill="#b030f0"/>
<rect x="319.98" y="303.70" width="11.70" height="0.80" fill="#7a7a7a"/>
<rect x="319.98" y="304.50" width="11.70" height="4.20" fill="#ccccff"/>
<rect x="319.98" y="308.70" width="11.70" height="10.10" fill="#b01400"/>
<rect x="319.98" y="318.80" width="11.70" height="11.60" fill="#061690"/>
<rect x="319.98" y="330.40" width="11.70" height="7.20" fill="#a87530"/>
<rect x="319.98" y="337.60" width="11.70" height="4.50" fill="#ff9000"/>
<rect x="319.98" y="342.10" width="11.70" height="20.90" fill="#00c000"/>
<rect x="319.98" y="363.00" width="11.70" height="92.75" fill="#0a3cff"/>
<rect x="337.21" y="245.60" width="11.70" height="18.50" fill="#000000"/>
<rect x="337.21" y="264.10" width="11.70" height="2.80" fill="#b844f0"/>
<rect x="337.21" y="266.90" width="11.70" height="1.30" fill="#10c810"/>
<rect x="337.21" y="268.20" width="11.70" height="1.40" fill="#ff2a00"/>
<rect x="337.21" y="269.60" width="11.70" height="1.20" fill="#0a3cff"/>
<rect x="337.21" y="270.80" width="11.70" height="3.40" fill="#ffff00"/>
<rect x="337.21" y="274.20" width="11.70" height="5.40" fill="#ccccff"/>
<rect x="337.21" y="279.60" width="11.70" height="1.50" fill="#a0c8f8"/>
<rect x="337.21" y="281.10" width="11.70" height="2.70" fill="#00ff00"/>
<rect x="337.21" y="283.80" width="11.70" height="2.20" fill="#f8c090"/>
<rect x="337.21" y="286.00" width="11.70" height="18.10" fill="#007850"/>
<rect x="339.51" y="287.60" width="7.10" height="14.90" fill="#006a00"/>
<rect x="337.21" y="304.10" width="11.70" height="1.80" fill="#b030f0"/>
<rect x="337.21" y="305.90" width="11.70" height="1.90" fill="#7a7a7a"/>
<rect x="337.21" y="307.80" width="11.70" height="4.10" fill="#ccccff"/>
<rect x="337.21" y="311.90" width="11.70" height="8.80" fill="#b01400"/>
<rect x="337.21" y="320.70" width="11.70" height="11.50" fill="#061690"/>
<rect x="337.21" y="332.20" width="11.70" height="6.40" fill="#a87530"/>
<rect x="337.21" y="338.60" width="11.70" height="6.00" fill="#ff9000"/>
<rect x="337.21" y="344.60" width="11.70" height="19.40" fill="#00c000"/>
<rect x="337.21" y="364.00" width="11.70" height="91.75" fill="#0a3cff"/>
<line x1="38.60" y1="225.10" x2="38.60" y2="456.35" stroke="#000" stroke-width="1.6"/>
<line x1="38.00" y1="225.10" x2="354.40" y2="225.10" stroke="#000" stroke-width="1.4"/>
<line x1="354.40" y1="225.10" x2="354.40" y2="455.75" stroke="#000" stroke-width="1.4"/>
<line x1="33.60" y1="245.75" x2="354.40" y2="245.75" stroke="#000" stroke-width="2.1"/>
<line x1="33.60" y1="455.75" x2="354.40" y2="455.75" stroke="#000" stroke-width="1.6"/>
<line x1="145.20" y1="225.10" x2="145.20" y2="455.75" stroke="#000" stroke-width="1.4"/>
<line x1="248.70" y1="225.10" x2="248.70" y2="455.75" stroke="#000" stroke-width="1.4"/>
<line x1="33.60" y1="455.75" x2="38.60" y2="455.75" stroke="#000" stroke-width="1.4"/>
<text x="31.60" y="459.85" font-size="12.8" text-anchor="end" >0</text>
<line x1="36.00" y1="434.75" x2="38.60" y2="434.75" stroke="#000" stroke-width="1.4"/>
<line x1="33.60" y1="413.75" x2="38.60" y2="413.75" stroke="#000" stroke-width="1.4"/>
<text x="31.60" y="417.85" font-size="12.8" text-anchor="end" >20</text>
<line x1="36.00" y1="392.75" x2="38.60" y2="392.75" stroke="#000" stroke-width="1.4"/>
<line x1="33.60" y1="371.75" x2="38.60" y2="371.75" stroke="#000" stroke-width="1.4"/>
<text x="31.60" y="375.85" font-size="12.8" text-anchor="end" >40</text>
<line x1="36.00" y1="350.75" x2="38.60" y2="350.75" stroke="#000" stroke-width="1.4"/>
<line x1="33.60" y1="329.75" x2="38.60" y2="329.75" stroke="#000" stroke-width="1.4"/>
<text x="31.60" y="333.85" font-size="12.8" text-anchor="end" >60</text>
<line x1="36.00" y1="308.75" x2="38.60" y2="308.75" stroke="#000" stroke-width="1.4"/>
<line x1="33.60" y1="287.75" x2="38.60" y2="287.75" stroke="#000" stroke-width="1.4"/>
<text x="31.60" y="291.85" font-size="12.8" text-anchor="end" >80</text>
<line x1="36.00" y1="266.75" x2="38.60" y2="266.75" stroke="#000" stroke-width="1.4"/>
<line x1="33.60" y1="245.75" x2="38.60" y2="245.75" stroke="#000" stroke-width="1.4"/>
<text x="31.60" y="249.85" font-size="12.8" text-anchor="end" >100</text>
<line x1="50.15" y1="455.75" x2="50.15" y2="459.35" stroke="#000" stroke-width="1.4"/>
<text x="0" y="0" font-size="12.5" text-anchor="end" textLength="29.52" lengthAdjust="spacingAndGlyphs" transform="translate(53.75,461.85) rotate(-90)">Blank</text>
<line x1="67.38" y1="455.75" x2="67.38" y2="459.35" stroke="#000" stroke-width="1.4"/>
<text x="0" y="0" font-size="12.5" text-anchor="end" textLength="24.26" lengthAdjust="spacingAndGlyphs" transform="translate(70.98,461.85) rotate(-90)">FOS</text>
<line x1="84.61" y1="455.75" x2="84.61" y2="459.35" stroke="#000" stroke-width="1.4"/>
<text x="0" y="0" font-size="12.5" text-anchor="end" textLength="20.98" lengthAdjust="spacingAndGlyphs" transform="translate(88.21,461.85) rotate(-90)">Cax</text>
<line x1="101.84" y1="455.75" x2="101.84" y2="459.35" stroke="#000" stroke-width="1.4"/>
<text x="0" y="0" font-size="12.5" text-anchor="end" textLength="7.87" lengthAdjust="spacingAndGlyphs" transform="translate(105.44,461.85) rotate(-90)">P</text>
<line x1="119.07" y1="455.75" x2="119.07" y2="459.35" stroke="#000" stroke-width="1.4"/>
<text x="0" y="0" font-size="12.5" text-anchor="end" textLength="32.12" lengthAdjust="spacingAndGlyphs" transform="translate(122.67,461.85) rotate(-90)">Cax-F</text>
<line x1="136.30" y1="455.75" x2="136.30" y2="459.35" stroke="#000" stroke-width="1.4"/>
<text x="0" y="0" font-size="12.5" text-anchor="end" textLength="39.99" lengthAdjust="spacingAndGlyphs" transform="translate(139.90,461.85) rotate(-90)">CaxP-F</text>
<line x1="153.53" y1="455.75" x2="153.53" y2="459.35" stroke="#000" stroke-width="1.4"/>
<text x="0" y="0" font-size="12.5" text-anchor="end" textLength="29.52" lengthAdjust="spacingAndGlyphs" transform="translate(157.13,461.85) rotate(-90)">Blank</text>
<line x1="170.76" y1="455.75" x2="170.76" y2="459.35" stroke="#000" stroke-width="1.4"/>
<text x="0" y="0" font-size="12.5" text-anchor="end" textLength="24.26" lengthAdjust="spacingAndGlyphs" transform="translate(174.36,461.85) rotate(-90)">FOS</text>
<line x1="187.99" y1="455.75" x2="187.99" y2="459.35" stroke="#000" stroke-width="1.4"/>
<text x="0" y="0" font-size="12.5" text-anchor="end" textLength="20.98" lengthAdjust="spacingAndGlyphs" transform="translate(191.59,461.85) rotate(-90)">Cax</text>
<line x1="205.22" y1="455.75" x2="205.22" y2="459.35" stroke="#000" stroke-width="1.4"/>
<text x="0" y="0" font-size="12.5" text-anchor="end" textLength="7.87" lengthAdjust="spacingAndGlyphs" transform="translate(208.82,461.85) rotate(-90)">P</text>
<line x1="222.45" y1="455.75" x2="222.45" y2="459.35" stroke="#000" stroke-width="1.4"/>
<text x="0" y="0" font-size="12.5" text-anchor="end" textLength="32.12" lengthAdjust="spacingAndGlyphs" transform="translate(226.05,461.85) rotate(-90)">Cax-F</text>
<line x1="239.68" y1="455.75" x2="239.68" y2="459.35" stroke="#000" stroke-width="1.4"/>
<text x="0" y="0" font-size="12.5" text-anchor="end" textLength="39.99" lengthAdjust="spacingAndGlyphs" transform="translate(243.28,461.85) rotate(-90)">CaxP-F</text>
<line x1="256.91" y1="455.75" x2="256.91" y2="459.35" stroke="#000" stroke-width="1.4"/>
<text x="0" y="0" font-size="12.5" text-anchor="end" textLength="29.52" lengthAdjust="spacingAndGlyphs" transform="translate(260.51,461.85) rotate(-90)">Blank</text>
<line x1="274.14" y1="455.75" x2="274.14" y2="459.35" stroke="#000" stroke-width="1.4"/>
<text x="0" y="0" font-size="12.5" text-anchor="end" textLength="24.26" lengthAdjust="spacingAndGlyphs" transform="translate(277.74,461.85) rotate(-90)">FOS</text>
<line x1="291.37" y1="455.75" x2="291.37" y2="459.35" stroke="#000" stroke-width="1.4"/>
<text x="0" y="0" font-size="12.5" text-anchor="end" textLength="20.98" lengthAdjust="spacingAndGlyphs" transform="translate(294.97,461.85) rotate(-90)">Cax</text>
<line x1="308.60" y1="455.75" x2="308.60" y2="459.35" stroke="#000" stroke-width="1.4"/>
<text x="0" y="0" font-size="12.5" text-anchor="end" textLength="7.87" lengthAdjust="spacingAndGlyphs" transform="translate(312.20,461.85) rotate(-90)">P</text>
<line x1="325.83" y1="455.75" x2="325.83" y2="459.35" stroke="#000" stroke-width="1.4"/>
<text x="0" y="0" font-size="12.5" text-anchor="end" textLength="32.12" lengthAdjust="spacingAndGlyphs" transform="translate(329.43,461.85) rotate(-90)">Cax-F</text>
<line x1="343.06" y1="455.75" x2="343.06" y2="459.35" stroke="#000" stroke-width="1.4"/>
<text x="0" y="0" font-size="12.5" text-anchor="end" textLength="39.99" lengthAdjust="spacingAndGlyphs" transform="translate(346.66,461.85) rotate(-90)">CaxP-F</text>
<text x="91.90" y="239.80" font-size="12.1" text-anchor="middle" >Donor 1</text>
<text x="196.95" y="239.80" font-size="12.1" text-anchor="middle" >Donor 2</text>
<text x="301.55" y="239.80" font-size="12.1" text-anchor="middle" >Donor 3</text>
<text x="-1.40" y="231.40" font-size="18.5" text-anchor="start" >C</text>
<rect x="373.00" y="219.70" width="18.20" height="8.60" fill="#000000"/>
<text x="399.00" y="227.80" font-size="11.05" text-anchor="start" >Others</text>
<rect x="373.00" y="230.90" width="18.20" height="8.60" fill="#b844f0"/>
<text x="399.00" y="239.00" font-size="11.05" text-anchor="start" ><tspan font-style="italic">Eubacterium eligens</tspan></text>
<rect x="373.00" y="242.40" width="18.20" height="8.60" fill="#10c810"/>
<text x="399.00" y="250.50" font-size="11.05" text-anchor="start" ><tspan font-style="italic">Lachnospira</tspan></text>
<rect x="373.00" y="252.30" width="18.20" height="8.60" fill="#ff2a00"/>
<text x="399.00" y="260.40" font-size="11.05" text-anchor="start" >Unassigned <tspan font-style="italic">Prevotellaceae</tspan></text>
<rect x="373.00" y="263.70" width="18.20" height="8.60" fill="#0a3cff"/>
<text x="399.00" y="271.80" font-size="11.05" text-anchor="start" ><tspan font-style="italic">Phascolarctobacterium</tspan></text>
<rect x="373.00" y="274.70" width="18.20" height="8.60" fill="#c8bc00"/>
<text x="399.00" y="282.80" font-size="11.05" text-anchor="start" ><tspan font-style="italic">Roseburia</tspan></text>
<rect x="373.00" y="285.10" width="18.20" height="8.60" fill="#d9d9d9"/>
<text x="399.00" y="293.20" font-size="11.05" text-anchor="start" ><tspan font-style="italic">[Ruminococcus] torques group</tspan></text>
<rect x="373.00" y="298.00" width="18.20" height="8.60" fill="#d07200"/>
<text x="399.00" y="306.10" font-size="11.05" text-anchor="start" ><tspan font-style="italic">Streptococcus</tspan></text>
<rect x="373.00" y="309.30" width="18.20" height="8.60" fill="#ffff00"/>
<text x="399.00" y="317.40" font-size="11.05" text-anchor="start" ><tspan font-style="italic">Eubacterium hallii</tspan></text>
<rect x="373.00" y="322.30" width="18.20" height="8.60" fill="#777777"/>
<text x="399.00" y="330.40" font-size="11.05" text-anchor="start" ><tspan font-style="italic">Ruminococcus 2</tspan></text>
<rect x="373.00" y="333.90" width="18.20" height="8.60" fill="#ccccff"/>
<text x="399.00" y="342.00" font-size="11.05" text-anchor="start" ><tspan font-style="italic">Megamonas</tspan></text>
<rect x="373.00" y="345.10" width="18.20" height="8.60" fill="#a0c8f8"/>
<text x="399.00" y="353.20" font-size="11.05" text-anchor="start" ><tspan font-style="italic">Erysipelotrichaceae UCG-003</tspan></text>
<rect x="373.00" y="356.50" width="18.20" height="8.60" fill="#00ff00"/>
<text x="399.00" y="364.60" font-size="11.05" text-anchor="start" ><tspan font-style="italic">Bifidobacterium</tspan></text>
<rect x="373.00" y="368.20" width="18.20" height="8.60" fill="#f8c090"/>
<text x="399.00" y="376.30" font-size="11.05" text-anchor="start" ><tspan font-style="italic">Alistipes</tspan></text>
<rect x="373.00" y="380.00" width="18.20" height="8.60" fill="#007850"/>
<rect x="375.60" y="382.30" width="13.10" height="3.80" fill="#006a00"/>
<text x="399.00" y="388.10" font-size="11.05" text-anchor="start" ><tspan font-style="italic">Faecalibacterium</tspan></text>
<rect x="373.00" y="391.20" width="18.20" height="8.60" fill="#b030f0"/>
<text x="399.00" y="399.30" font-size="11.05" text-anchor="start" ><tspan font-style="italic">Parabacteroides</tspan></text>
<rect x="373.00" y="402.70" width="18.20" height="8.60" fill="#ff2a00"/>
<text x="399.00" y="410.80" font-size="11.05" text-anchor="start" ><tspan font-style="italic">Parasutterella</tspan></text>
<rect x="373.00" y="413.90" width="18.20" height="8.60" fill="#7a7a7a"/>
<text x="399.00" y="422.00" font-size="11.05" text-anchor="start" ><tspan font-style="italic">Lachnoclostridium</tspan></text>
<rect x="373.00" y="425.60" width="18.20" height="8.60" fill="#ccccff"/>
<text x="399.00" y="433.70" font-size="11.05" text-anchor="start" >Unassigned <tspan font-style="italic">Ruminococcaceae</tspan></text>
<rect x="373.00" y="437.40" width="18.20" height="8.60" fill="#b01400"/>
<text x="399.00" y="445.50" font-size="11.05" text-anchor="start" ><tspan font-style="italic">Anaerostipes</tspan></text>
<rect x="373.00" y="448.60" width="18.20" height="8.60" fill="#061690"/>
<text x="399.00" y="456.70" font-size="11.05" text-anchor="start" >Unassigned <tspan font-style="italic">Bacteroidaceae</tspan></text>
<rect x="373.00" y="459.50" width="18.20" height="8.60" fill="#a87530"/>
<text x="399.00" y="467.60" font-size="11.05" text-anchor="start" ><tspan font-style="italic">Blautia</tspan></text>
<rect x="373.00" y="471.10" width="18.20" height="8.60" fill="#ff9000"/>
<text x="399.00" y="479.20" font-size="11.05" text-anchor="start" ><tspan font-style="italic">Subdoligranulum</tspan></text>
<rect x="373.00" y="482.20" width="18.20" height="8.60" fill="#00c000"/>
<text x="399.00" y="490.30" font-size="11.05" text-anchor="start" >Unassigned <tspan font-style="italic">Lachnospiraceae</tspan></text>
<rect x="373.00" y="494.00" width="18.20" height="8.60" fill="#0a3cff"/>
<text x="399.00" y="502.10" font-size="11.05" text-anchor="start" ><tspan font-style="italic">Bacteroides</tspan></text>
</svg></body></html>
